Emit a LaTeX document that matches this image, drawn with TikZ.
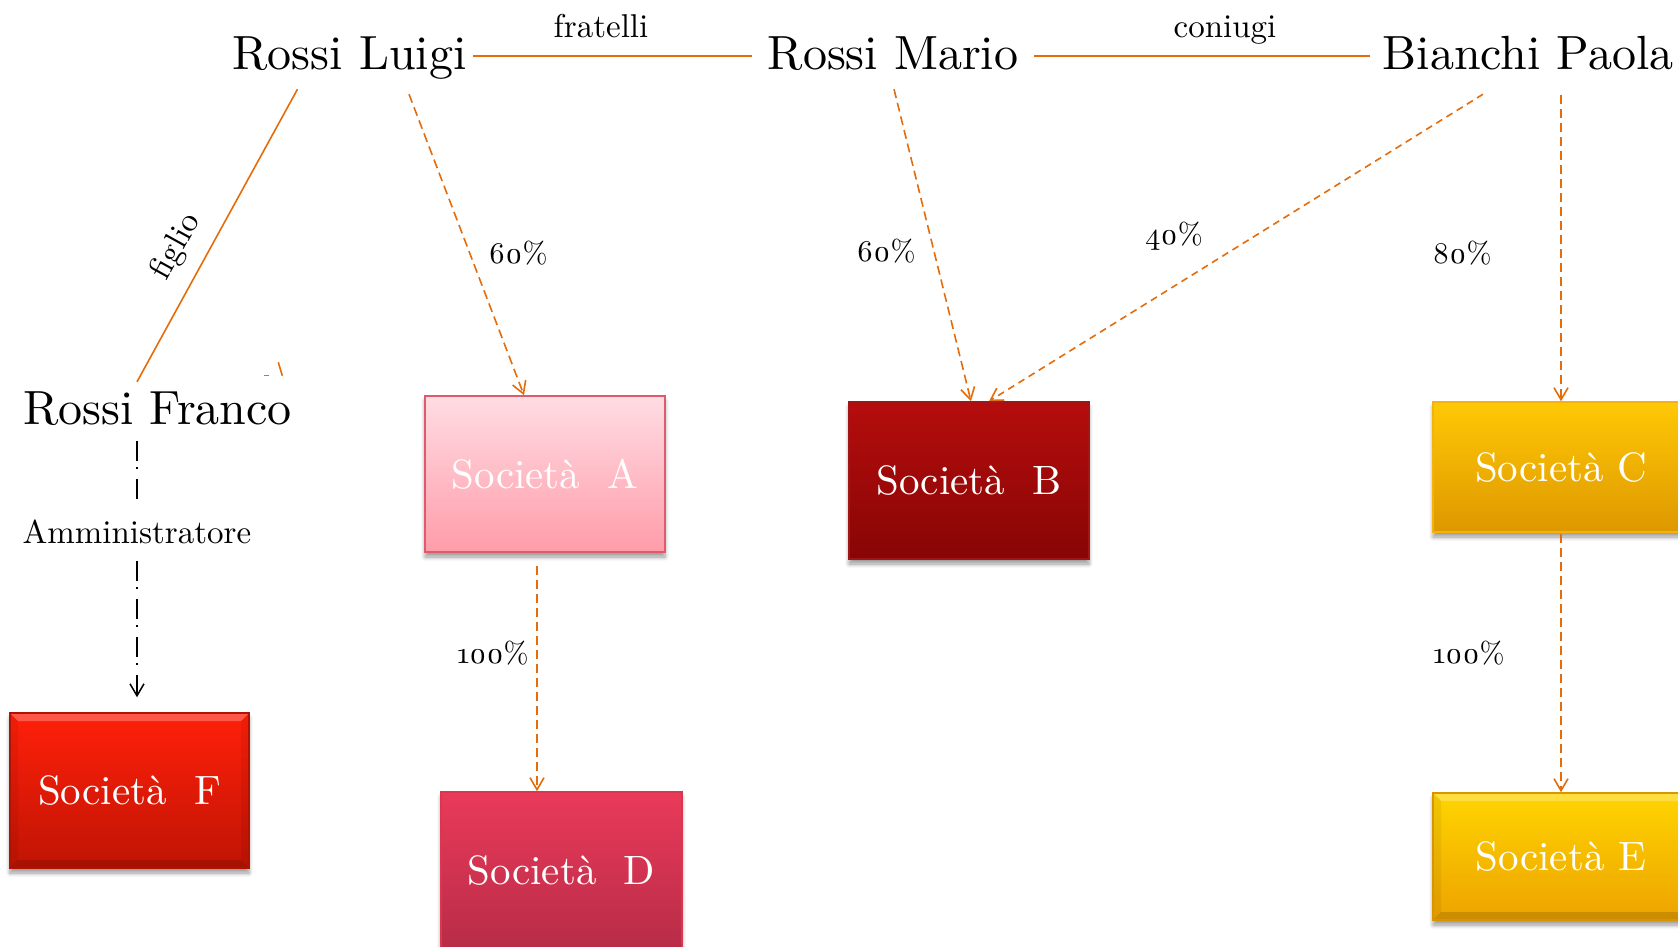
\documentclass[tikz,border=0pt]{standalone}
\usepackage{fontspec}
\setmainfont{lmroman10-regular.otf}
\newfontfamily\pctfont{lmroman10-regular.otf}[Numbers=OldStyle]
\usetikzlibrary{arrows.meta,shadows.blur}

\definecolor{relorange}{HTML}{E46C0A}
\definecolor{aTop}{HTML}{FFDCE3}
\definecolor{aBot}{HTML}{FF9DAA}
\definecolor{aLine}{HTML}{DE5A6E}
\definecolor{bTop}{HTML}{B50D0D}
\definecolor{bBot}{HTML}{880505}
\definecolor{bLine}{HTML}{A01616}
\definecolor{cTop}{HTML}{FFC805}
\definecolor{cBot}{HTML}{DE9800}
\definecolor{cLine}{HTML}{F5B20A}
\definecolor{dTop}{HTML}{EA3A5A}
\definecolor{dBot}{HTML}{B82C47}
\definecolor{dLine}{HTML}{D8374F}
\definecolor{eTop}{HTML}{FFD400}
\definecolor{eBot}{HTML}{EDA300}
\definecolor{eLine}{HTML}{D99500}
\definecolor{fTop}{HTML}{FF200A}
\definecolor{fBot}{HTML}{C01404}
\definecolor{fLine}{HTML}{B01204}

\begin{document}
\begin{tikzpicture}[x=1pt,y=-1pt,
  person/.style={font=\fontsize{48}{56}\selectfont, inner sep=0pt,
    text height=34pt, text depth=6pt, anchor=base},
  tag/.style={font=\fontsize{33}{39}\selectfont, inner sep=0pt, anchor=base},
  pct/.style={font=\pctfont\fontsize{30}{36}\selectfont, inner sep=0pt, anchor=base},
  firm/.style={line width=1.5pt, inner sep=0pt, text=white,
    font=\fontsize{41}{49}\selectfont,
    blur shadow={shadow xshift=0pt, shadow yshift=-5pt,
      shadow blur radius=4pt, shadow blur steps=6, shadow opacity=40}},
  bevel/.style={path picture={
      \fill[white, opacity=0.25]
        (path picture bounding box.north west) -- (path picture bounding box.north east)
        -- ([xshift=-8pt,yshift=-8pt]path picture bounding box.north east)
        -- ([xshift=8pt,yshift=-8pt]path picture bounding box.north west) -- cycle;
      \fill[black, opacity=0.14]
        (path picture bounding box.south west) -- (path picture bounding box.south east)
        -- ([xshift=-8pt,yshift=8pt]path picture bounding box.south east)
        -- ([xshift=8pt,yshift=8pt]path picture bounding box.south west) -- cycle;
      \fill[black, opacity=0.06]
        (path picture bounding box.north west) -- ([xshift=8pt,yshift=-8pt]path picture bounding box.north west)
        -- ([xshift=8pt,yshift=8pt]path picture bounding box.south west)
        -- (path picture bounding box.south west) -- cycle;
      \fill[black, opacity=0.06]
        (path picture bounding box.north east) -- ([xshift=-8pt,yshift=-8pt]path picture bounding box.north east)
        -- ([xshift=-8pt,yshift=8pt]path picture bounding box.south east)
        -- (path picture bounding box.south east) -- cycle;
    }},
  tie/.style={draw=relorange, line width=2.2pt},
  kin/.style={draw=relorange, line width=1.6pt},
  own/.style={draw=relorange, line width=1.6pt, dash pattern=on 9pt off 5pt,
    -{Straight Barb[length=12pt,width=14pt]}},
  admin/.style={draw=black, line width=1.5pt,
    dash pattern=on 20pt off 6pt on 2pt off 10pt},
]
\useasboundingbox (0,0) rectangle (1678,947);
\clip (0,0) rectangle (1678,947);

% people
\node[person] (luigi)  at (349.5,70) {Rossi Luigi};
\node[person] (mario)  at (893,70)   {Rossi Mario};
\node[person] (paola)  at (1528,70)  {Bianchi Paola};
\node[person] (franco) at (157.5,424){Rossi Franco};

% companies
\node[firm, minimum width=240pt, minimum height=156pt,
      top color=aTop, bottom color=aBot, draw=aLine] (socA) at (545,474) {Società~~A};
\node[firm, minimum width=240pt, minimum height=157pt,
      top color=bTop, bottom color=bBot, draw=bLine] (socB) at (969,480.5) {Società~~B};
\node[firm, minimum width=256pt, minimum height=130pt,
      top color=cTop, bottom color=cBot, draw=cLine] (socC) at (1561,467) {Società C};
\node[firm, minimum width=241pt, minimum height=156pt,
      top color=dTop, bottom color=dBot, draw=dLine] (socD) at (561.5,870) {Società~~D};
\node[firm, bevel, minimum width=256pt, minimum height=127pt,
      top color=eTop, bottom color=eBot, draw=eLine] (socE) at (1561,856.5) {Società E};
\node[firm, bevel, minimum width=239pt, minimum height=155pt,
      top color=fTop, bottom color=fBot, draw=fLine] (socF) at (129.5,790.5) {Società~~F};

% family ties
\draw[tie] ([xshift=6pt]luigi.east) -- ([xshift=-15pt]mario.west);
\draw[tie] ([xshift=15pt]mario.east) -- ([xshift=-12.5pt]paola.west);
\node[tag] (lfratelli) at (601,38) {fratelli};
\node[tag] (lconiugi)  at (1225,38) {coniugi};
\draw[kin] ([xshift=-52pt,yshift=-13pt]luigi.south) -- ([xshift=-20.5pt,yshift=8pt]franco.north);
\node[tag, anchor=center, rotate=61] (lfiglio) at (176.5,247) {figlio};

% leftover strokes below the kinship line
\draw[relorange, line width=1.6pt] (278.3,362.3) -- (282.3,375.7);
\draw[relorange, line width=1.6pt] (264.3,375.3) -- (269,375.3);

% shareholdings
\draw[own] ([xshift=59.5pt,yshift=-18pt]luigi.south) -- ([xshift=-21pt]socA.north);
\draw[own] ([xshift=1pt,yshift=-13pt]mario.south) -- ([xshift=2pt]socB.north);
\draw[own, dash pattern=on 7pt off 5pt] ([xshift=-45pt,yshift=-18pt]paola.south) -- ([xshift=20pt]socB.north);
\draw[own] ([xshift=33pt,yshift=-19pt]paola.south) -- (socC.north);
\draw[own] ([xshift=-8pt,yshift=-13pt]socA.south) -- ([xshift=-24.5pt]socD.north);
\draw[own] ([yshift=-1pt]socC.south) -- (socE.north);

\node[pct] (pA) at (518,263)  {60\%};
\node[pct] (pB1) at (886,261) {60\%};
\node[pct] (pB2) at (1174,244){40\%};
\node[pct] (pC) at (1462,263) {80\%};
\node[pct] (pD) at (493,663)  {100\%};
\node[pct] (pE) at (1469,663) {100\%};

% management
\node[tag, anchor=center, minimum height=58pt] (amm) at (137,532) {Amministratore};
\draw[admin] ([xshift=-20.5pt,yshift=-11pt]franco.south) -- (amm.north);
\draw[admin, -{Straight Barb[length=12pt,width=14pt]}] (amm.south) -- ([xshift=7.5pt,yshift=15pt]socF.north);
\end{tikzpicture}
\end{document}
